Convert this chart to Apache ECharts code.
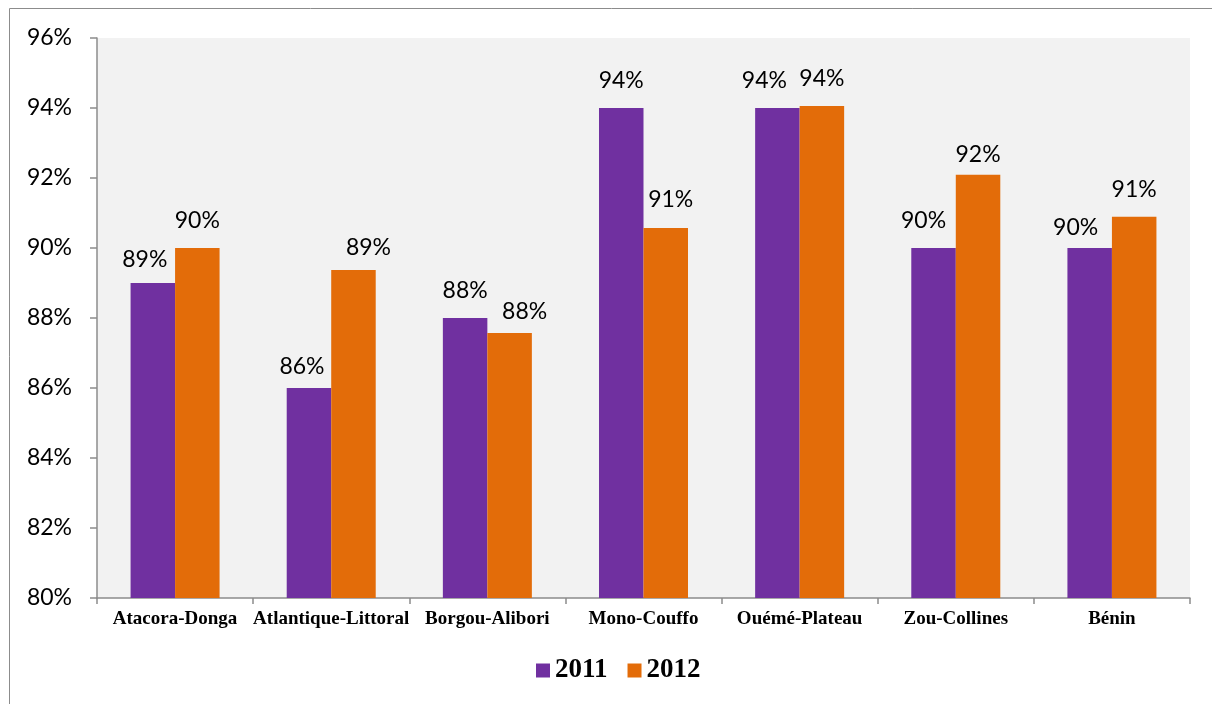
<!DOCTYPE html>
<html><head><meta charset="utf-8">
<script src="https://cdn.jsdelivr.net/npm/echarts@6/dist/echarts.min.js"></script>
<style>html,body{margin:0;padding:0;background:#fff}#c{width:1212px;height:704px}</style>
</head><body><div id="c"></div>
<script>
const categories = ['Atacora-Donga','Atlantique-Littoral','Borgou-Alibori','Mono-Couffo','Ouémé-Plateau','Zou-Collines','Bénin'];
const values2011 = [89, 86, 88, 94, 94, 90, 90];
const values2012 = [90, 89.37, 87.57, 90.57, 94.06, 92.09, 90.89];
const yTicks = {min: 80, max: 96, interval: 2};

// hand-placed data label nudges (style only, in px)
const labelNudge2011 = [[-8, 4], [-7, 6], [0, 0], [0, 0], [-13, 0], [-10, 0], [-14, 7]];
const labelNudge2012 = [[0, 0], [15, 5], [15, 6], [5, -1], [0, 0], [0, 7], [0, 0]];

const chart = echarts.init(document.getElementById('c'), null, {renderer: 'canvas'});
const baseLabel = {show: true, position: 'top', distance: 16, color: '#000', fontFamily: 'Lato', fontSize: 23,
  formatter: p => Math.round(p.value) + '%'};
const withNudges = (vals, nudges) => vals.map((v, i) => ({value: v, label: {offset: nudges[i]}}));

chart.setOption({
  animation: false,
  graphic: [{type: 'rect', shape: {x: 9.5, y: 8.5, width: 1400, height: 900},
    style: {fill: 'none', stroke: '#8c8c8c', lineWidth: 1}, z: -10}],
  grid: {left: 97, right: 22, top: 38, bottom: 106, show: true, backgroundColor: '#F2F2F2', borderWidth: 0},
  legend: {top: 652, left: 531, itemWidth: 14, itemHeight: 14, itemGap: 20, icon: 'rect',
    textStyle: {fontFamily: 'Liberation Serif', fontWeight: 'bold', fontSize: 27, color: '#000'},
    data: ['2011', '2012']},
  xAxis: {type: 'category', data: categories,
    axisLine: {lineStyle: {color: '#8c8c8c', width: 1.5}},
    axisTick: {show: true, length: 6, lineStyle: {color: '#8c8c8c', width: 1.5}},
    axisLabel: {interval: 0, fontFamily: 'Liberation Serif', fontWeight: 'bold', fontSize: 19, color: '#000', margin: 12}},
  yAxis: {type: 'value', min: yTicks.min, max: yTicks.max, interval: yTicks.interval,
    axisLine: {show: true, lineStyle: {color: '#8c8c8c', width: 1.5}},
    axisTick: {show: true, length: 7, lineStyle: {color: '#8c8c8c', width: 1.5}},
    splitLine: {show: false},
    axisLabel: {fontFamily: 'Lato', fontSize: 23, color: '#000', margin: 25, formatter: v => v + '%'}},
  series: [
    {name: '2011', type: 'bar', data: withNudges(values2011, labelNudge2011), barGap: '0%', barCategoryGap: '43%',
      itemStyle: {color: '#7030A0'}, label: baseLabel},
    {name: '2012', type: 'bar', data: withNudges(values2012, labelNudge2012),
      itemStyle: {color: '#E36C09'}, label: baseLabel}
  ]
});
</script></body></html>
